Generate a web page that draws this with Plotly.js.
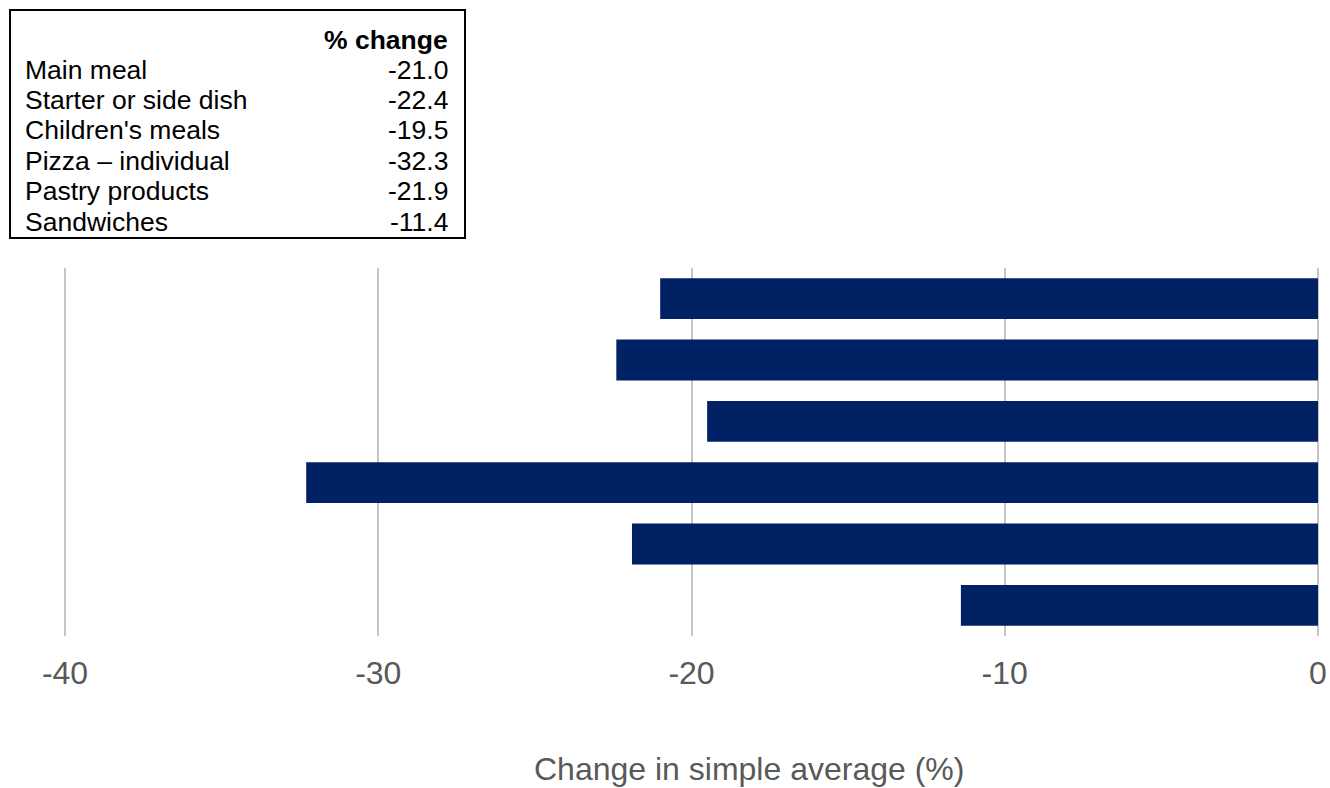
<!DOCTYPE html>
<html>
<head>
<meta charset="utf-8">
<script src="https://cdn.plot.ly/plotly-3.0.1.min.js"></script>
<style>html,body{margin:0;padding:0;background:#fff;}#chart{width:1330px;height:788px;}</style>
</head>
<body>
<div id="chart"></div>
<script>
// ---- Data ----
const categories = ["Main meal", "Starter or side dish", "Children's meals", "Pizza \u2013 individual", "Pastry products", "Sandwiches"];
const values = [-21.0, -22.4, -19.5, -32.3, -21.9, -11.4];
const tableHeader = "% change";
const xTickVals = [-40, -30, -20, -10, 0];
const xTickText = ["-40", "-30", "-20", "-10", "0"];
const xAxisTitle = "Change in simple average (%)";

// ---- Layout geometry (pixels) ----
const W = 1330, H = 788;
const X40 = 65, X0 = 1318;            // pixel positions of -40 and 0
const unitPx = (X0 - X40) / 40;
const EXT = 0.16;                     // small extension so edge gridlines are visible
const L = X40 - EXT * unitPx, R = W - (X0 + EXT * unitPx);
const T = 268, B = 152;
const plotW = W - L - R, plotH = H - T - B;
const px = x => (x - L) / plotW;
const py = y => (H - B - y) / plotH;

const FONT = "Liberation Sans, Arial, sans-serif";
const TFS = 26.5;

const annotations = [];
annotations.push({
  xref: "paper", yref: "paper", x: px(449.5), y: py(50.3 - 0.4 * TFS),
  xanchor: "right", yanchor: "middle", showarrow: false,
  text: "<b>" + tableHeader + "</b>",
  font: {family: FONT, size: TFS, color: "#000"}
});
categories.forEach((c, i) => {
  const yc = 80.3 + i * 30.4 - 0.4 * TFS;
  annotations.push({
    xref: "paper", yref: "paper", x: px(22.5), y: py(yc),
    xanchor: "left", yanchor: "middle", showarrow: false,
    text: c, font: {family: FONT, size: TFS, color: "#000"}
  });
  annotations.push({
    xref: "paper", yref: "paper", x: px(449.5), y: py(yc),
    xanchor: "right", yanchor: "middle", showarrow: false,
    text: values[i].toFixed(1), font: {family: FONT, size: TFS, color: "#000"}
  });
});
annotations.push({
  xref: "paper", yref: "paper", x: px(749), y: py(782 - 0.4 * 32),
  xanchor: "center", yanchor: "middle", showarrow: false,
  text: xAxisTitle, font: {family: FONT, size: 32, color: "#595959"}
});

const trace = {
  type: "bar",
  orientation: "h",
  x: values,
  y: categories,
  marker: {color: "#002163", line: {width: 0}},
  hoverinfo: "x+y"
};

const layout = {
  width: W, height: H,
  margin: {l: L, r: R, t: T, b: B, pad: 0},
  paper_bgcolor: "#fff", plot_bgcolor: "#fff",
  showlegend: false,
  bargap: 0.335,
  font: {family: FONT},
  xaxis: {
    range: [-40 - EXT, 0 + EXT],
    tickvals: xTickVals, ticktext: xTickText,
    showgrid: true, gridcolor: "#c6c6c6", gridwidth: 2,
    zeroline: false, showline: false, ticks: "",
    ticklabelstandoff: 15,
    tickfont: {family: FONT, size: 32, color: "#595959"},
    fixedrange: true
  },
  yaxis: {
    autorange: "reversed",
    showticklabels: false, showgrid: false, zeroline: false, showline: false, ticks: "",
    fixedrange: true
  },
  shapes: [{
    type: "rect", xref: "paper", yref: "paper",
    x0: px(10), x1: px(465), y0: py(238), y1: py(10),
    line: {color: "#000", width: 2}, fillcolor: "rgba(0,0,0,0)"
  }],
  annotations: annotations
};

Plotly.newPlot("chart", [trace], layout, {displayModeBar: false, staticPlot: true});
</script>
</body>
</html>
